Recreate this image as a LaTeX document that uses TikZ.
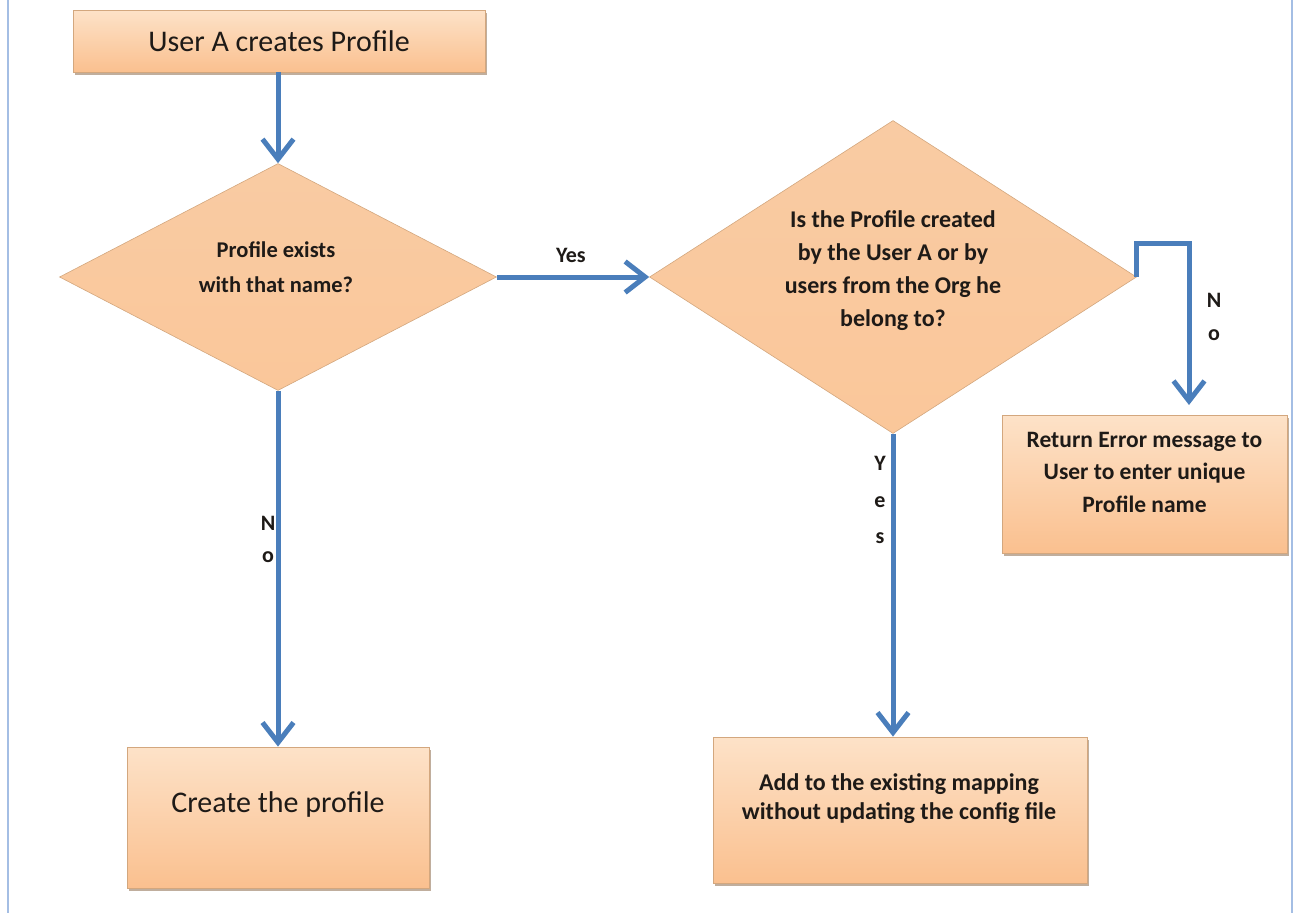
\documentclass[tikz,border=0pt]{standalone}
\usepackage{fontspec}
\setmainfont{Carlito}
\usetikzlibrary{shapes.geometric,arrows.meta,shadows}
\definecolor{arrowblue}{HTML}{4A7EBB}
\definecolor{boxtop}{HTML}{FDE2C8}
\definecolor{boxbot}{HTML}{FAC08F}
\definecolor{dtop}{HTML}{F9CBA3}
\definecolor{dbot}{HTML}{FAC79A}
\definecolor{boxline}{HTML}{D3A77E}
\definecolor{frameblue}{HTML}{A4BEE4}
\definecolor{txt}{HTML}{1E1A17}
\begin{document}
\begin{tikzpicture}[x=1pt,y=-1pt,
  procbox/.style={rectangle, draw=boxline, line width=0.8pt, top color=boxtop, bottom color=boxbot, inner sep=0pt,
    drop shadow={shadow xshift=1.5pt, shadow yshift=-3pt, fill=brown!60!black, opacity=0.45}},
  decision/.style={diamond, draw=boxline, line width=0.6pt, top color=dtop, bottom color=dbot, inner sep=0pt},
  txtnode/.style={text=txt, align=center, inner sep=0pt},
  flow/.style={draw=arrowblue, line width=5pt, line join=miter, -{Straight Barb[length=20pt,width=31pt]}},
  lbl/.style={text=txt, font=\bfseries\fontsize{22}{24}\selectfont, inner sep=0pt}]
\useasboundingbox (0,0) rectangle (1294,913);
\draw[frameblue, line width=2pt] (8,0) -- (8,913);
\draw[frameblue, line width=2pt] (1292,0) -- (1292,913);

% shapes
\node[procbox, minimum width=412pt, minimum height=62pt] (start) at (279,41) {};
\node[decision, minimum width=437pt, minimum height=227pt, aspect=1.925] (d1) at (278,277) {};
\node[decision, minimum width=487pt, minimum height=313pt, aspect=1.556] (d2) at (893,277) {};
\node[procbox, minimum width=285pt, minimum height=138pt] (err) at (1144.5,484) {};
\node[procbox, minimum width=302pt, minimum height=141pt] (create) at (278,817.5) {};
\node[procbox, minimum width=374pt, minimum height=146pt] (add) at (900,810) {};

% texts
\node[txtnode, font=\fontsize{30}{36}\selectfont] (startt) at (279,41) {User A creates Profile};
\node[txtnode, font=\bfseries\fontsize{22.5}{35}\selectfont] (d1t) at (276,267) {Profile exists\\with that name?};
\node[txtnode, font=\bfseries\fontsize{24}{33}\selectfont] (d2t) at (893,271) {Is the Profile created\\by the User A or by\\users from the Org he\\belong to?};
\node[txtnode, font=\bfseries\fontsize{23.5}{32.5}\selectfont] (errt) at (1144.5,472) {Return Error message to\\User to enter unique\\Profile name};
\node[txtnode, font=\fontsize{30}{36}\selectfont] (createt) at (278,804.5) {Create the profile};
\node[txtnode, font=\bfseries\fontsize{24}{29}\selectfont] (addt) at (899,799) {Add to the existing mapping\\without updating the config file};

\coordinate (nTurn) at (1189,243);
\coordinate (nEnd) at (1189,405);

\draw[flow] (start.south -| d1.north) -- (d1.north);
\draw[flow] (d1.east) -- (d2.west);
\draw[flow] (d2.east) |- (nTurn) -- (nEnd);
\draw[flow] (d1.south) -- (d1.south |- create.north);
\draw[flow] (d2.south) -- (d2.south |- add.north);

\node[lbl] (yes1) at (571,255) {Yes};
\node[lbl] (no1a) at (268,523) {N};
\node[lbl] (no1b) at (268,557) {o};
\node[lbl] (no2a) at (1214,300) {N};
\node[lbl] (no2b) at (1214,335) {o};
\node[lbl] (yes2a) at (880,463) {Y};
\node[lbl] (yes2b) at (880,502) {e};
\node[lbl] (yes2c) at (880,538) {s};
\end{tikzpicture}
\end{document}
